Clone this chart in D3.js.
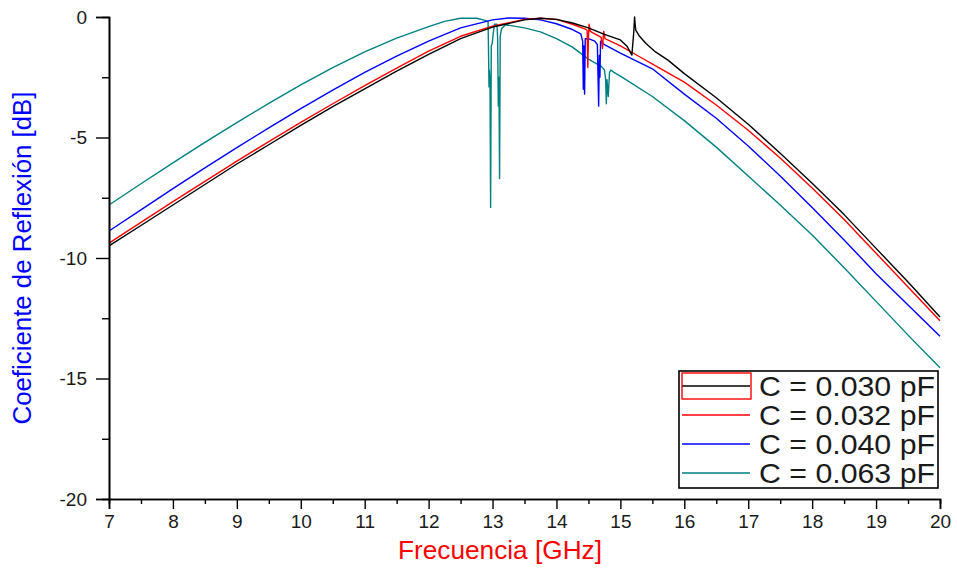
<!DOCTYPE html>
<html>
<head>
<meta charset="utf-8">
<script src="https://cdn.jsdelivr.net/npm/d3@7"></script>
<style>
  html, body { margin: 0; padding: 0; background: #fff; }
  svg { display: block; }
  text { font-family: "Liberation Sans", Arial, sans-serif; }
</style>
</head>
<body>
<svg id="chart" width="957" height="571"></svg>
<script>
// Reflection coefficient (dB) vs frequency (GHz) for four capacitance values

const seriesNames = ["C = 0.030 pF", "C = 0.032 pF", "C = 0.040 pF", "C = 0.063 pF"];
const seriesColors = ["#000000", "#ff0000", "#0000ff", "#008080"];

const xTicks = [7, 8, 9, 10, 11, 12, 13, 14, 15, 16, 17, 18, 19, 20];
const yTicks = [0, -5, -10, -15, -20];

// C = 0.030 pF
const f030 = [7, 7.5, 8, 8.5, 9, 9.5, 10, 10.5, 11, 11.5, 12, 12.5, 13, 13.5, 13.75, 14, 14.25, 14.5, 14.75, 15.0, 15.1, 15.18, 15.21, 15.222, 15.228, 15.24, 15.3, 15.4, 15.55, 15.75, 16, 16.5, 17, 17.5, 18, 18.5, 19, 19.5, 20];
const s030 = [-9.5, -8.65, -7.8, -6.95, -6.1, -5.3, -4.5, -3.72, -2.98, -2.25, -1.55, -0.9, -0.42, -0.12, -0.05, -0.1, -0.25, -0.45, -0.72, -0.95, -1.2, -1.58, -0.6, 0.0, -0.2, -0.54, -0.8, -1.1, -1.45, -1.8, -2.35, -3.35, -4.45, -5.65, -6.9, -8.2, -9.6, -11.0, -12.45];

// C = 0.032 pF
const f032 = [7, 7.5, 8, 8.5, 9, 9.5, 10, 10.5, 11, 11.5, 12, 12.5, 13, 13.5, 13.75, 14, 14.25, 14.45, 14.48, 14.49, 14.5, 14.51, 14.53, 14.7, 14.72, 14.73, 14.74, 14.76, 15, 15.3, 15.6, 16, 16.5, 17, 17.5, 18, 18.5, 19, 19.5, 20];
const s032 = [-9.38, -8.52, -7.66, -6.82, -5.98, -5.17, -4.37, -3.6, -2.85, -2.12, -1.42, -0.8, -0.38, -0.1, -0.05, -0.1, -0.3, -0.5, -0.55, -2.1, -0.9, -0.3, -0.6, -0.85, -1.3, -0.9, -0.6, -0.9, -1.2, -1.65, -2.1, -2.7, -3.65, -4.7, -5.85, -7.1, -8.4, -9.8, -11.2, -12.6];

// C = 0.040 pF
const f040 = [7, 7.5, 8, 8.5, 9, 9.5, 10, 10.5, 11, 11.5, 12, 12.5, 13, 13.25, 13.5, 13.75, 14, 14.25, 14.38, 14.41, 14.42, 14.43, 14.44, 14.45, 14.5, 14.6, 14.64, 14.66, 14.67, 14.68, 14.69, 14.75, 15, 15.5, 16, 16.5, 17, 17.5, 18, 18.5, 19, 19.5, 20];
const s040 = [-8.88, -8.0, -7.12, -6.26, -5.42, -4.6, -3.8, -3.03, -2.3, -1.62, -1.0, -0.45, -0.12, -0.04, -0.05, -0.12, -0.28, -0.52, -0.7, -1.0, -3.0, -1.2, -3.2, -0.9, -0.9, -1.0, -1.15, -3.7, -1.6, -2.5, -1.0, -1.15, -1.5, -2.15, -3.2, -4.2, -5.35, -6.6, -7.9, -9.25, -10.65, -11.95, -13.25];

// C = 0.063 pF
const f063 = [7, 7.5, 8, 8.5, 9, 9.5, 10, 10.5, 11, 11.5, 12, 12.25, 12.5, 12.75, 12.9, 12.93, 12.935, 12.945, 12.95, 12.96, 12.97, 12.98, 12.995, 13.01, 13.03, 13.07, 13.08, 13.09, 13.10, 13.11, 13.12, 13.14, 13.2, 13.5, 13.75, 14, 14.25, 14.5, 14.7, 14.75, 14.77, 14.78, 14.79, 14.81, 14.83, 14.85, 14.9, 15, 15.5, 16, 16.5, 17, 17.5, 18, 18.5, 19, 19.5, 20];
const s063 = [-7.8, -6.92, -6.05, -5.2, -4.38, -3.58, -2.82, -2.1, -1.45, -0.88, -0.4, -0.18, -0.05, -0.05, -0.15, -0.2, -1.0, -2.9, -2.2, -2.6, -7.9, -1.2, -1.1, -0.7, -0.3, -0.3, -0.9, -3.7, -2.5, -6.7, -0.8, -0.5, -0.32, -0.45, -0.62, -0.9, -1.25, -1.75, -2.05, -2.2, -2.6, -3.6, -2.6, -3.3, -2.3, -2.2, -2.3, -2.45, -3.3, -4.3, -5.4, -6.6, -7.8, -9.05, -10.4, -11.8, -13.2, -14.55];

const seriesFreq = [f030, f032, f040, f063];
const seriesDb = [s030, s032, s040, s063];

const svg = d3.select("#chart");
const plotLeft = 109, plotRight = 940, plotTop = 17, plotBottom = 499;

const x = d3.scaleLinear().domain([7, 20]).range([plotLeft, plotRight]);
const y = d3.scaleLinear().domain([-20, 0]).range([plotBottom, plotTop]);

// curves, clipped to the plot area
svg.append("clipPath").attr("id", "plotClip")
  .append("rect").attr("x", plotLeft).attr("y", plotTop - 2)
  .attr("width", plotRight - plotLeft + 1).attr("height", plotBottom - plotTop + 2);

const line = d3.line().x(d => x(d[0])).y(d => y(d[1]));
const curves = svg.append("g").attr("clip-path", "url(#plotClip)");
// draw the largest capacitance first so the black trace sits on top
[3, 2, 1, 0].forEach(i => {
  const pts = seriesFreq[i].map((f, k) => [f, seriesDb[i][k]]);
  curves.append("path")
    .attr("d", line(pts))
    .attr("fill", "none")
    .attr("stroke", seriesColors[i])
    .attr("stroke-width", 1.4)
    .attr("stroke-linejoin", "round");
});

const tickFont = "'Liberation Sans', Arial, sans-serif";

// x axis: major ticks every 1 GHz, minor every 0.5 GHz
const xAxis = svg.append("g").attr("transform", `translate(0,${plotBottom})`);
xAxis.call(d3.axisBottom(x).tickValues(d3.range(7.5, 20, 1)).tickSize(5).tickFormat(""));
xAxis.append("g").call(d3.axisBottom(x).tickValues(xTicks).tickSize(10).tickPadding(6).tickFormat(d3.format("d")));
xAxis.selectAll(".domain").attr("stroke", "#000").attr("stroke-width", 1.6);
xAxis.selectAll(".tick line").attr("stroke", "#000").attr("stroke-width", 1.4);
xAxis.selectAll(".tick text").attr("font-size", 19).attr("fill", "#1a1a1a").attr("font-family", tickFont);

// y axis: major ticks every 5 dB, minor every 2.5 dB
const yAxis = svg.append("g").attr("transform", `translate(${plotLeft},0)`);
yAxis.call(d3.axisLeft(y).tickValues([-2.5, -7.5, -12.5, -17.5]).tickSize(7).tickFormat(""));
yAxis.append("g").call(d3.axisLeft(y).tickValues(yTicks).tickSize(13).tickPadding(9).tickFormat(d => d3.format("d")(d).replace("−", "-")));
yAxis.selectAll(".domain").attr("stroke", "#000").attr("stroke-width", 1.6);
yAxis.selectAll(".tick line").attr("stroke", "#000").attr("stroke-width", 1.4);
yAxis.selectAll(".tick text").attr("font-size", 19).attr("fill", "#1a1a1a").attr("font-family", tickFont);

// axis titles
svg.append("text")
  .attr("x", 500).attr("y", 559)
  .attr("text-anchor", "middle")
  .attr("font-size", 25)
  .attr("fill", "#ff0000")
  .attr("textLength", 204)
  .attr("lengthAdjust", "spacingAndGlyphs")
  .text("Frecuencia [GHz]");

svg.append("text")
  .attr("transform", "translate(31,258) rotate(-90)")
  .attr("text-anchor", "middle")
  .attr("font-size", 25)
  .attr("fill", "#0000ff")
  .attr("textLength", 333)
  .attr("lengthAdjust", "spacingAndGlyphs")
  .text("Coeficiente de Reflexión [dB]");

// legend
const legend = svg.append("g");
legend.append("rect")
  .attr("x", 679).attr("y", 371).attr("width", 259).attr("height", 117)
  .attr("fill", "#fff").attr("stroke", "#000").attr("stroke-width", 1.6);
const rowY = d3.scalePoint().domain(d3.range(4)).range([386, 473]);
seriesNames.forEach((name, i) => {
  legend.append("line")
    .attr("x1", 682).attr("x2", 750)
    .attr("y1", rowY(i)).attr("y2", rowY(i))
    .attr("stroke", seriesColors[i]).attr("stroke-width", 1.4);
  legend.append("text")
    .attr("x", 759).attr("y", rowY(i) + 10)
    .attr("font-size", 28)
    .attr("fill", "#1a1a1a")
    .attr("textLength", 176)
    .attr("lengthAdjust", "spacingAndGlyphs")
    .text(name);
});
// highlight frame around the first legend sample
legend.append("rect")
  .attr("x", 682).attr("y", 373).attr("width", 69).attr("height", 26)
  .attr("fill", "none").attr("stroke", "#ff0000").attr("stroke-width", 1.4);
</script>
</body>
</html>
